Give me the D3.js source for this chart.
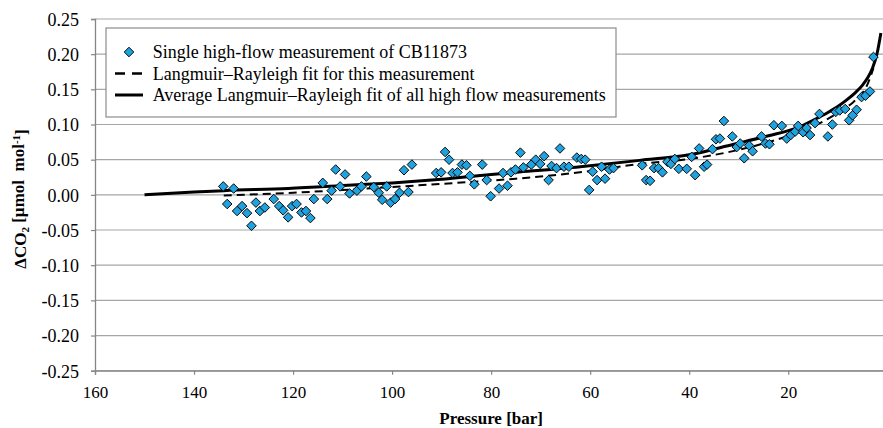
<!DOCTYPE html>
<html><head><meta charset="utf-8">
<script src="https://cdnjs.cloudflare.com/ajax/libs/d3/7.8.5/d3.min.js"></script>
<style>
body{margin:0;background:#fff}
svg{display:block}
</style>
</head><body><svg id="c" width="883" height="428"></svg>
<script>
// ---- data ----
const pressure = [134.1,133.3,132.0,131.3,130.3,129.3,128.4,127.5,126.7,125.7,123.9,122.8,122.0,121.0,120.2,119.3,118.3,117.4,116.5,115.8,
114.0,113.1,112.2,111.4,110.5,109.5,108.6,107.1,106.2,105.2,103.7,102.7,102.0,101.1,100.3,99.4,98.5,97.6,96.7,96.0,
91.1,90.1,89.3,88.5,87.8,86.8,85.9,85.0,84.3,83.4,81.8,80.9,80.1,78.4,77.6,76.7,76.0,75.1,74.1,73.5,
71.9,71.0,70.1,69.3,68.4,67.8,66.8,66.1,65.3,64.3,62.7,61.8,61.0,60.2,59.5,58.6,57.7,57.0,56.1,55.3,
49.5,48.7,47.9,47.1,46.2,45.4,44.4,43.7,42.9,42.1,40.5,39.5,38.8,38.0,37.0,36.4,35.3,34.6,33.8,33.0,
31.3,30.4,29.7,28.9,27.9,27.2,25.4,24.6,23.8,22.9,21.3,20.3,19.5,18.6,18.0,17.0,16.3,15.6,14.6,13.7,
12.0,11.1,10.4,9.6,8.5,7.7,7.0,6.2,5.2,4.4,3.5,2.8];
const deltaCO2 = [0.012,-0.013,0.009,-0.023,-0.016,-0.026,-0.044,-0.011,-0.023,-0.018,-0.006,-0.016,-0.022,-0.032,-0.016,-0.013,-0.025,-0.023,-0.033,-0.006,
0.017,-0.006,0.006,0.036,0.012,0.029,0.002,0.006,0.012,0.026,0.011,0.003,-0.007,0.012,-0.011,-0.006,0.003,0.035,0.004,0.043,
0.031,0.032,0.061,0.050,0.031,0.032,0.043,0.042,0.027,0.015,0.043,0.021,-0.002,0.009,0.031,0.013,0.032,0.036,0.060,0.039,
0.043,0.050,0.044,0.055,0.021,0.041,0.038,0.066,0.040,0.040,0.053,0.051,0.050,0.007,0.033,0.021,0.040,0.023,0.036,0.038,
0.042,0.021,0.020,0.038,0.038,0.032,0.047,0.044,0.051,0.037,0.037,0.054,0.028,0.066,0.040,0.043,0.065,0.079,0.080,0.105,
0.083,0.068,0.073,0.052,0.070,0.062,0.083,0.073,0.072,0.099,0.098,0.080,0.085,0.090,0.098,0.089,0.095,0.085,0.102,0.115,
0.083,0.100,0.118,0.120,0.122,0.106,0.113,0.121,0.139,0.141,0.147,0.196];

const avgFitP = [150,140,134,121,108,100,92,80,75,62,50,40,31,24,18,15,12,9.5,8.0,6.5,5.0,4.0,3.0,2.1,1.3];
const avgFitV = [0.000,0.004,0.006,0.009,0.014,0.017,0.021,0.029,0.032,0.040,0.049,0.057,0.072,0.084,0.096,0.106,0.117,0.128,0.136,0.145,0.156,0.166,0.180,0.200,0.230];

const fitP = [134,120,105,98,85,75,61,50,40,30,24,18,12,9,7,5.5,4.2,2.8];
const fitV = [-0.001,0.003,0.009,0.012,0.018,0.023,0.033,0.044,0.051,0.064,0.075,0.089,0.108,0.121,0.131,0.141,0.154,0.180];

const xTicks = [160,140,120,100,80,60,40,20];
const yTicks = [0.25,0.20,0.15,0.10,0.05,0.00,-0.05,-0.10,-0.15,-0.20,-0.25];
const legendLabels = ["Single high-flow measurement of CB11873",
  "Langmuir\u2013Rayleigh fit for this measurement",
  "Average Langmuir\u2013Rayleigh fit of all high flow measurements"];

// ---- chart ----
const FONT = '"Liberation Serif"';
const svg = d3.select("#c");
svg.append("rect").attr("width",883).attr("height",428).attr("fill","#fff");
const L = 95, R = 887.3, T = 19, B = 370.7;
const x = d3.scaleLinear().domain([160,0]).range([L,R]);
const y = d3.scaleLinear().domain([-0.25,0.25]).range([B,T]);

const grid = svg.append("g");
grid.selectAll("line").data(yTicks).join("line")
  .attr("x1",L).attr("x2",R).attr("y1",d=>y(d)).attr("y2",d=>y(d))
  .attr("stroke","#a6a6a6").attr("stroke-width",1.2);

const ya = svg.append("g").attr("transform",`translate(${L},0)`)
  .call(d3.axisLeft(y).tickValues(yTicks).tickFormat(d=>d.toFixed(2)).tickSize(4).tickPadding(12));
const xa = svg.append("g").attr("transform",`translate(0,${B})`)
  .call(d3.axisBottom(x).tickValues(xTicks).tickFormat(d=>d).tickSize(4));
[ya,xa].forEach(a=>{
  a.attr("font-family",null).attr("font-size",null);
  a.select(".domain").attr("stroke","#868686").attr("stroke-width",1.3);
  a.selectAll(".tick line").attr("stroke","#868686").attr("stroke-width",1.2);
  a.selectAll("text").style("font-family",FONT).attr("fill","#000");
});
ya.selectAll(".tick text").style("font-size","18px").attr("dy","0.35em");
xa.selectAll(".tick text").style("font-size","17px").attr("y",21).attr("dy","0.35em");

// fit lines
const line = d3.line().x(d=>x(d[0])).y(d=>y(d[1])).curve(d3.curveMonotoneX);
svg.append("path").datum(avgFitP.map((p,i)=>[p,avgFitV[i]]))
  .attr("d",line).attr("fill","none").attr("stroke","#000").attr("stroke-width",3);
svg.append("path").datum(fitP.map((p,i)=>[p,fitV[i]]))
  .attr("d",line).attr("fill","none").attr("stroke","#000").attr("stroke-width",2)
  .attr("stroke-dasharray","8,5");

// markers
const diamond = d3.symbol(d3.symbolSquare, 46);
svg.append("g").selectAll("path").data(pressure.map((p,i)=>[p,deltaCO2[i]])).join("path")
  .attr("d",diamond)
  .attr("transform",d=>`translate(${x(d[0])},${y(d[1])}) rotate(45)`)
  .attr("fill","#1fa2de").attr("stroke","#000").attr("stroke-width",0.9);

// axis titles
svg.append("text").attr("x",(L+R)/2).attr("y",418).attr("dy","0.35em")
  .attr("text-anchor","middle").style("font-size","17px").style("font-weight","bold").style("font-family",FONT)
  .text("Pressure [bar]");
const yt = svg.append("text").attr("transform","translate(20,199) rotate(-90)")
  .attr("text-anchor","middle").attr("dy","0.35em")
  .style("font-size","17px").style("font-weight","bold").style("font-family",FONT);
yt.append("tspan").text("\u0394CO");
yt.append("tspan").text("2").style("font-size","11px").attr("dy","0.25em");
yt.append("tspan").text(" [\u00b5mol\u00a0\u00a0mol").attr("dy","-0.25em");
yt.append("tspan").text("-1").style("font-size","11px").attr("dy","-0.45em");
yt.append("tspan").text("]").attr("dy","0.45em");

// legend
const lg = svg.append("g");
lg.append("rect").attr("x",106).attr("y",28).attr("width",510).attr("height",89)
  .attr("fill","#fff").attr("stroke","#8c8c8c").attr("stroke-width",1.2);
const rows = [52,73.5,95];
lg.append("path").attr("d",diamond).attr("transform",`translate(129,${rows[0]}) rotate(45)`)
  .attr("fill","#1fa2de").attr("stroke","#000").attr("stroke-width",0.9);
lg.append("line").attr("x1",115).attr("x2",143).attr("y1",rows[1]).attr("y2",rows[1])
  .attr("stroke","#000").attr("stroke-width",2.5).attr("stroke-dasharray","10,7");
lg.append("line").attr("x1",115).attr("x2",143).attr("y1",rows[2]).attr("y2",rows[2])
  .attr("stroke","#000").attr("stroke-width",3);
lg.selectAll("text.lt").data(legendLabels).join("text").attr("class","lt")
  .attr("x",152.7).attr("y",(d,i)=>rows[i]).attr("dy","0.35em")
  .style("font-size","18px").style("font-family",FONT).attr("fill","#000").text(d=>d);
</script></body></html>
